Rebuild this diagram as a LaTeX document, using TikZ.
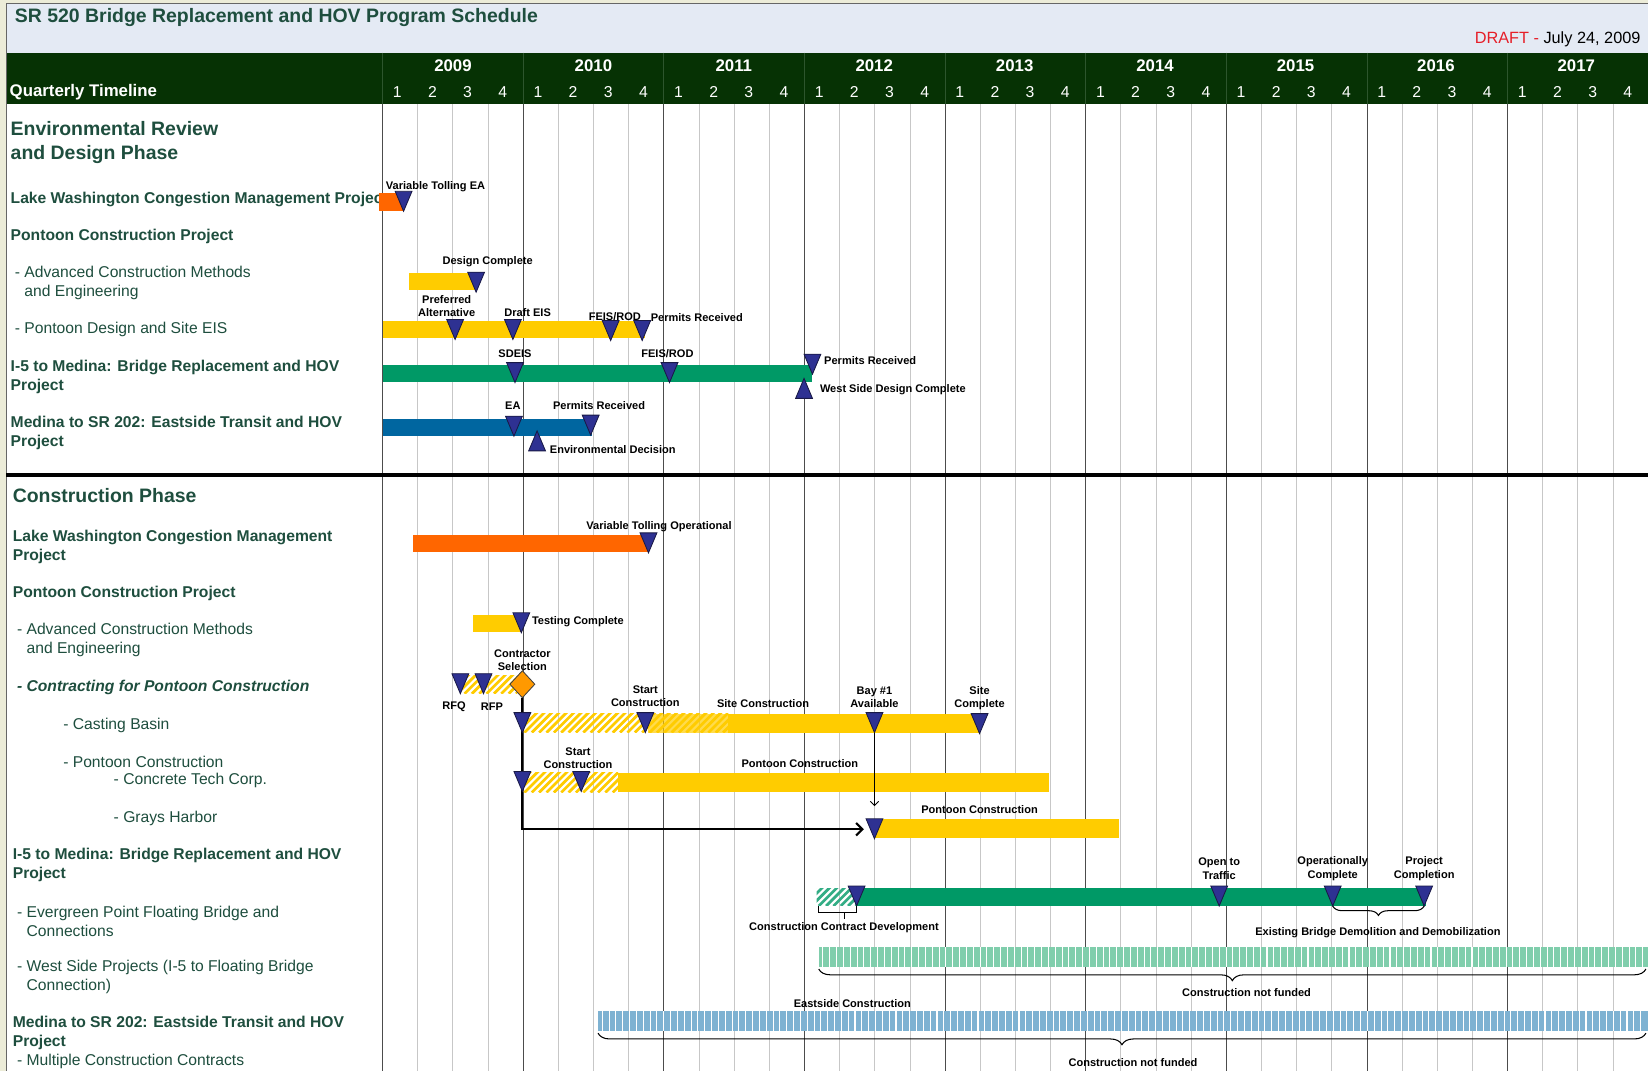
\documentclass[tikz,border=0pt]{standalone}
\usepackage{fontspec}
\setmainfont{Liberation Sans}
\usetikzlibrary{shapes.geometric,arrows.meta,decorations.pathreplacing,calc}

\definecolor{hdrgreen}{RGB}{6,50,4}
\definecolor{hdrline}{RGB}{45,85,45}
\definecolor{titlebg}{RGB}{228,234,244}
\definecolor{rowgreen}{RGB}{30,78,62}
\definecolor{barorange}{RGB}{255,102,0}
\definecolor{baryellow}{RGB}{255,204,0}
\definecolor{bargreen}{RGB}{0,153,102}
\definecolor{barblue}{RGB}{0,102,160}
\definecolor{msblue}{RGB}{46,49,146}
\definecolor{msline}{RGB}{25,25,70}
\definecolor{nfgreen}{RGB}{128,206,172}
\definecolor{nfblue}{RGB}{126,178,210}
\definecolor{selorange}{RGB}{255,153,0}
\definecolor{draftred}{RGB}{230,30,40}
\definecolor{edgebeige}{RGB}{236,236,216}

\tikzset{
  gridq/.style={draw=black!22, line width=0.8pt},
  gridy/.style={draw=black!70, line width=0.9pt},
  hdrsep/.style={draw=hdrline, line width=0.8pt},
  txt/.style={inner sep=0, yshift=-1.8pt},
  hdrtext/.style={txt, text=white, font=\bfseries\fontsize{16}{19}\selectfont},
  qnum/.style={txt, text=white, font=\fontsize{15}{18}\selectfont},
  phase/.style={txt, anchor=west, text=rowgreen, align=left, font=\bfseries\fontsize{18.5}{23}\selectfont},
  rowhead/.style={txt, anchor=west, text=rowgreen, align=left, font=\bfseries\fontsize{14.9}{18}\selectfont},
  rowsub/.style={txt, anchor=west, text=rowgreen, align=left, font=\fontsize{14.9}{18}\selectfont},
  lbl/.style={txt, align=center, font=\bfseries\fontsize{10.5}{13}\selectfont},
  lblw/.style={lbl, anchor=west},
  link/.style={draw=black, line width=2pt, -{Straight Barb[length=6pt,width=12pt]}},
  feed/.style={draw=black, line width=0.8pt, -{Straight Barb[length=4pt,width=8pt]}},
  notfunded/.style={draw=black, line width=1pt, decorate, decoration={brace, mirror, amplitude=11pt}},
  msdown/.pic={
    \filldraw[fill=msblue, draw=msline, line width=0.8pt] (-8,0) -- (8,0) -- (0,19) -- cycle;
    \coordinate (-top) at (0,0);
    \coordinate (-tip) at (0,19);
    \coordinate (-in) at (-10,10);
  },
  msup/.pic={
    \filldraw[fill=msblue, draw=msline, line width=0.8pt] (-8,0) -- (8,0) -- (0,-19) -- cycle;
    \coordinate (-tip) at (0,-19);
  }
}

% yellow (or green) hatched part of a bar
\newcommand\hatchfill[5]{%
  \begin{scope}
    \clip (#1,#2) rectangle (#3,#4);
    \pgfmathsetmacro\hend{#3-#1}
    \foreach \k in {-26,-19,...,\hend} \draw[#5, line width=2.6pt] ({#1+\k},#4) -- ++(28,-28);
  \end{scope}}

\begin{document}
\begin{tikzpicture}[x=1pt,y=-1pt]
\useasboundingbox (0,0) rectangle (1568,1019);
% frame and header
\fill[edgebeige] (0,0) rectangle (1568,1019);
\fill[white] (6,3) rectangle (1568,1019);
\fill[titlebg] (6,3) rectangle (1568,50);
\fill[hdrgreen] (6,50) rectangle (1568,99);
\draw[black!60] (6,1019) -- (6,3) -- (1568,3);

% grid
\foreach \i in {0,...,35} \draw[gridq] ({364+33.45*\i},99) -- ({364+33.45*\i},1019);
\foreach \i in {0,...,8} \draw[gridy] ({364+133.8*\i},99) -- ({364+133.8*\i},1019);
\foreach \i in {0,...,8} \draw[hdrsep] ({364+133.8*\i},50) -- ({364+133.8*\i},99);
\draw[line width=3pt] (6,452) -- (1568,452);

\node[txt, anchor=west, text=rowgreen, font=\bfseries\fontsize{18.5}{22}\selectfont] (title) at (14,15) {SR 520 Bridge Replacement and HOV Program Schedule};
\node[txt, anchor=east, font=\fontsize{15.5}{18}\selectfont] (draft) at (1561,36) {\textcolor{draftred}{DRAFT -} July 24, 2009};
\node[hdrtext, anchor=west] (qtime) at (9,86) {Quarterly Timeline};
\foreach \yr [count=\k from 0] in {2009,...,2017}
  \node[hdrtext] (yr\yr) at ({431+133.6*\k},61) {\yr};
\foreach \i in {0,...,35} {
  \pgfmathtruncatemacro\q{mod(\i,4)+1}
  \node[qnum] (q\i) at ({378+33.45*\i},86) {\q};
}

% left column: environmental review
\node[phase] (envphase) at (10,133.5) {Environmental Review\\and Design Phase};
\begin{scope}
  \clip (6,170) rectangle (361,205);
  \node[rowhead] (envlw) at (10,188) {Lake Washington Congestion Management Project};
\end{scope}
\node[rowhead] (envpcp) at (10,223) {Pontoon Construction Project};
\node[rowsub] (envacm) at (14,267) {- Advanced Construction Methods\\\hphantom{- }and Engineering};
\node[rowsub] (envpds) at (14,312) {- Pontoon Design and Site EIS};
\node[rowhead] (envi5) at (10,357) {I-5 to Medina: Bridge Replacement and HOV\\Project};
\node[rowhead] (envmed) at (10,410) {Medina to SR 202: Eastside Transit and HOV\\Project};

% left column: construction
\node[phase] (conphase) at (12,470) {Construction Phase};
\node[rowhead] (conlw) at (12,519) {Lake Washington Congestion Management\\Project};
\node[rowhead] (conpcp) at (12,563) {Pontoon Construction Project};
\node[rowsub] (conacm) at (16,607) {- Advanced Construction Methods\\\hphantom{- }and Engineering};
\node[rowhead, font=\bfseries\itshape\fontsize{14.9}{18}\selectfont] (concpc) at (16,652) {- Contracting for Pontoon Construction};
\node[rowsub] (concb) at (60,688) {- Casting Basin};
\node[rowsub] (conpc) at (60,723) {- Pontoon Construction};
\node[rowsub] (conctc) at (108,741) {- Concrete Tech Corp.};
\node[rowsub] (congh) at (108,777) {- Grays Harbor};
\node[rowhead] (coni5) at (12,821) {I-5 to Medina: Bridge Replacement and HOV\\Project};
\node[rowsub] (conepf) at (16,875) {- Evergreen Point Floating Bridge and\\\hphantom{- }Connections};
\node[rowsub] (conws) at (16,928) {- West Side Projects (I-5 to Floating Bridge\\\hphantom{- }Connection)};
\node[rowhead] (conmed) at (12,981) {Medina to SR 202: Eastside Transit and HOV\\Project};
\node[rowsub] (conmcc) at (16,1008) {- Multiple Construction Contracts};

% bars: environmental review
\fill[barorange] (361,184) rectangle (383,201);
\fill[baryellow] (389,260) rectangle (452,276);
\fill[baryellow] (364,305) rectangle (614,322);
\fill[bargreen] (364,347) rectangle (773,363);
\fill[barblue] (364,399) rectangle (563,415);

% bars: construction
\fill[barorange] (393,509) rectangle (617,525);
\fill[baryellow] (450,585) rectangle (497,601);
\hatchfill{440}{643}{492}{660}{baryellow}
\hatchfill{497}{679}{693}{697}{baryellow}
\fill[baryellow, opacity=0.7] (617,679) rectangle (693,697);
\fill[baryellow] (693,679) rectangle (932,697);
\hatchfill{497}{735}{588}{754}{baryellow}
\fill[baryellow] (588,735) rectangle (998,754);
\fill[baryellow] (832,779) rectangle (1065,797);
\hatchfill{777}{845}{815}{862}{bargreen!80}
\fill[bargreen] (815,845) rectangle (1357,862);
\fill[nfgreen] (779,901) rectangle (1568,920);
\foreach \x in {783,789.5,...,1566} \draw[white, line width=1pt] (\x,901) -- (\x,920);
\fill[nfblue] (569,962) rectangle (1568,981);
\foreach \x in {573,579.5,...,1566} \draw[white, line width=1pt] (\x,962) -- (\x,981);

% links
\node[diamond, draw=black!75, fill=selorange, line width=0.8pt, minimum width=24pt, minimum height=26pt, inner sep=0] (sel) at (497,651) {};
\pic (gh) at (832,779) {msdown};
\draw[link] (sel.south) |- (gh-in);
\pic (bay) at (832,678) {msdown};
\draw[feed] (bay-tip) -- ($(gh-top)+(0,-12)$);

% milestones: environmental review
\pic (vtea) at (384,182) {msdown};
\pic (dcomp) at (453,259) {msdown};
\pic (pref) at (433,304) {msdown};
\pic (deis) at (488,304) {msdown};
\pic (feisa) at (581,305) {msdown};
\pic (perma) at (611,305) {msdown};
\pic (sdeis) at (490,345) {msdown};
\pic (feisb) at (637,345) {msdown};
\pic (permb) at (773,337) {msdown};
\pic (wsdc) at (765,379) {msup};
\pic (ea) at (489,396) {msdown};
\pic (permc) at (562,395) {msdown};
\pic (envdec) at (511,429) {msup};

% milestones: construction
\pic (vtop) at (617,507) {msdown};
\pic (test) at (496,583) {msdown};
\pic (rfq) at (438,641) {msdown};
\pic (rfp) at (460,641) {msdown};
\pic (cbnil) at (497,678) {msdown};
\pic (cbstart) at (614,678) {msdown};
\pic (site) at (932,679) {msdown};
\pic (ctnil) at (497,734) {msdown};
\pic (ctstart) at (553,734) {msdown};
\pic (ccd) at (815,843) {msdown};
\pic (open) at (1160,843) {msdown};
\pic (opc) at (1268,843) {msdown};
\pic (pc) at (1355,843) {msdown};

% brackets and braces
\draw[black, line width=0.8pt] (779,862) -- (779,868) -- (815,868) -- (815,862);
\draw[black, line width=0.8pt] (803,868) -- (803,874);
\draw[notfunded, decoration={amplitude=9pt}] (opc-tip) -- (pc-tip);
\draw[notfunded] (779,922) -- (1566,922);
\draw[notfunded] (569,983) -- (1566,983);

% labels: environmental review
\node[lblw] (lvtea) at (367,176) {Variable Tolling EA};
\node[lbl] (ldcomp) at (464,247) {Design Complete};
\node[lbl] (lpref) at (425,289.5) {Preferred\\Alternative};
\node[lbl] (ldeis) at (502,296) {Draft EIS};
\node[lbl] (lfeisa) at (585,299) {FEIS/ROD};
\node[lbl] (lperma) at (663,300) {Permits Received};
\node[lbl] (lsdeis) at (490,335) {SDEIS};
\node[lbl] (lfeisb) at (635,335) {FEIS/ROD};
\node[lblw] (lpermb) at (784,341) {Permits Received};
\node[lblw] (lwsdc) at (780,369) {West Side Design Complete};
\node[lbl] (lea) at (488,384) {EA};
\node[lbl] (lpermc) at (570,384) {Permits Received};
\node[lblw] (lenvdec) at (523,426) {Environmental Decision};

% labels: construction
\node[lbl] (lvtop) at (627,499) {Variable Tolling Operational};
\node[lblw] (ltest) at (506,590) {Testing Complete};
\node[lbl] (lsel) at (497,626.5) {Contractor\\Selection};
\node[lbl] (lrfq) at (432,671) {RFQ};
\node[lbl] (lrfp) at (468,671) {RFP};
\node[lbl] (lcbstart) at (614,660.5) {Start\\Construction};
\node[lbl] (lsitec) at (726,668) {Site Construction};
\node[lbl] (lbay) at (832,661.5) {Bay \#1\\Available};
\node[lbl] (lsite) at (932,662.5) {Site\\Complete};
\node[lbl] (lctstart) at (550,719.5) {Start\\Construction};
\node[lbl] (lctpc) at (761,725) {Pontoon Construction};
\node[lbl] (lghpc) at (932,768) {Pontoon Construction};
\node[lbl] (lopen) at (1160,824.5) {Open to\\Traffic};
\node[lbl] (lopc) at (1268,824.5) {Operationally\\Complete};
\node[lbl] (lpc) at (1355,824.5) {Project\\Completion};
\node[lbl] (lccd) at (803,881) {Construction Contract Development};
\node[lbl] (ldemo) at (1311,886) {Existing Bridge Demolition and Demobilization};
\node[lbl] (lnfws) at (1186,943) {Construction not funded};
\node[lbl] (least) at (811,953) {Eastside Construction};
\node[lbl] (lnfmed) at (1078,1009) {Construction not funded};
\end{tikzpicture}
\end{document}
